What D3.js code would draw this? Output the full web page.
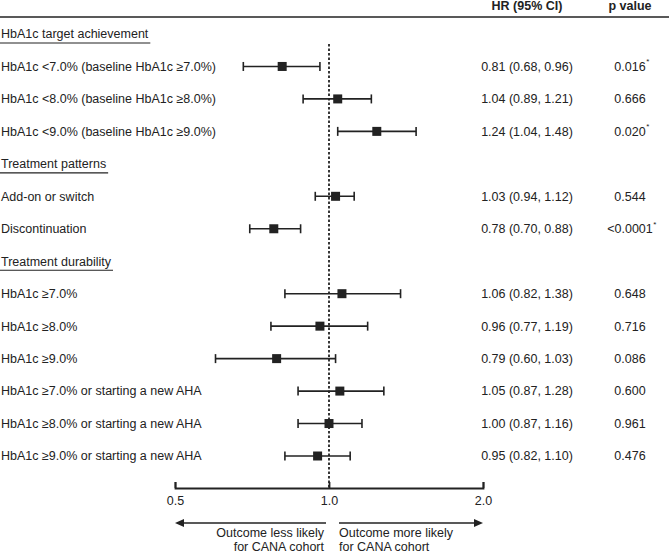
<!DOCTYPE html>
<html><head><meta charset="utf-8">
<script src="https://cdn.jsdelivr.net/npm/d3@7"></script>
<style>
html,body{margin:0;padding:0;background:#fff;}
svg{display:block;font-family:"Liberation Sans",Arial,sans-serif;}
</style></head>
<body><svg id="c" width="669" height="553"></svg>
<script>
const sections = ["HbA1c target achievement", "Treatment patterns", "Treatment durability"];
const rowLabels = [
  "HbA1c <7.0% (baseline HbA1c ≥7.0%)",
  "HbA1c <8.0% (baseline HbA1c ≥8.0%)",
  "HbA1c <9.0% (baseline HbA1c ≥9.0%)",
  "Add-on or switch",
  "Discontinuation",
  "HbA1c ≥7.0%",
  "HbA1c ≥8.0%",
  "HbA1c ≥9.0%",
  "HbA1c ≥7.0% or starting a new AHA",
  "HbA1c ≥8.0% or starting a new AHA",
  "HbA1c ≥9.0% or starting a new AHA"
];
const rowSection = [0, 0, 0, 1, 1, 2, 2, 2, 2, 2, 2];
const hr     = [0.81, 1.04, 1.24, 1.03, 0.78, 1.06, 0.96, 0.79, 1.05, 1.00, 0.95];
const ciLow  = [0.68, 0.89, 1.04, 0.94, 0.70, 0.82, 0.77, 0.60, 0.87, 0.87, 0.82];
const ciHigh = [0.96, 1.21, 1.48, 1.12, 0.88, 1.38, 1.19, 1.03, 1.28, 1.16, 1.10];
const pValues = ["0.016", "0.666", "0.020", "0.544", "<0.0001", "0.648", "0.716", "0.086", "0.600", "0.961", "0.476"];
const significant = [true, false, true, false, true, false, false, false, false, false, false];
const tickValues = [0.5, 1.0, 2.0];
const colHeaders = ["HR (95% CI)", "p value"];
const arrowLabels = [["Outcome less likely", "for CANA cohort"], ["Outcome more likely", "for CANA cohort"]];

const ink = "#222";
const fs = 12.5;
const svg = d3.select("#c");

// build item list: section headers interleaved with rows
const items = [];
rowLabels.forEach((l, i) => {
  if (i === 0 || rowSection[i] !== rowSection[i - 1]) items.push({type: "sec", idx: rowSection[i]});
  items.push({type: "row", idx: i});
});
const y = d3.scalePoint().domain(d3.range(items.length)).range([34, 456]);
const x = d3.scaleLog().domain([0.5, 2]).range([175, 483]);
const rowY = {};
items.forEach((it, k) => { if (it.type === "row") rowY[it.idx] = y(k); });

// top header
svg.append("line").attr("x1", 0).attr("x2", 669).attr("y1", 17).attr("y2", 17)
  .attr("stroke", ink).attr("stroke-width", 1.6);
svg.append("text").attr("x", 527).attr("y", 10).attr("text-anchor", "middle")
  .attr("font-size", fs).attr("font-weight", "bold").attr("fill", ink).text(colHeaders[0]);
svg.append("text").attr("x", 630).attr("y", 10).attr("text-anchor", "middle")
  .attr("font-size", fs).attr("font-weight", "bold").attr("fill", ink).text(colHeaders[1]);

// section headers
items.forEach((it, k) => {
  if (it.type !== "sec") return;
  const t = svg.append("text").attr("x", 1).attr("y", y(k)).attr("dy", "0.35em")
    .attr("font-size", fs).attr("fill", ink).text(sections[it.idx]);
  const w = t.node().getComputedTextLength();
  svg.append("line").attr("x1", 0).attr("x2", w + 3).attr("y1", y(k) + 9).attr("y2", y(k) + 9)
    .attr("stroke", ink).attr("stroke-width", 1.2);
});

// reference line
svg.append("line").attr("x1", x(1)).attr("x2", x(1)).attr("y1", 44).attr("y2", 488)
  .attr("stroke", ink).attr("stroke-width", 1.8).attr("stroke-dasharray", "2.5,2");

// rows
const fmt = d3.format(".2f");
rowLabels.forEach((l, i) => {
  const yy = rowY[i];
  svg.append("text").attr("x", 1).attr("y", yy).attr("dy", "0.35em")
    .attr("font-size", fs).attr("fill", ink).text(l);
  const g = svg.append("g").attr("stroke", ink).attr("stroke-width", 1.6);
  g.append("line").attr("x1", x(ciLow[i])).attr("x2", x(ciHigh[i])).attr("y1", yy).attr("y2", yy);
  g.append("line").attr("x1", x(ciLow[i])).attr("x2", x(ciLow[i])).attr("y1", yy - 4.5).attr("y2", yy + 4.5);
  g.append("line").attr("x1", x(ciHigh[i])).attr("x2", x(ciHigh[i])).attr("y1", yy - 4.5).attr("y2", yy + 4.5);
  svg.append("rect").attr("x", x(hr[i]) - 4.5).attr("y", yy - 4.5).attr("width", 9).attr("height", 9).attr("fill", ink);
  svg.append("text").attr("x", 527).attr("y", yy).attr("dy", "0.35em").attr("text-anchor", "middle")
    .attr("font-size", fs).attr("fill", ink)
    .text(`${fmt(hr[i])} (${fmt(ciLow[i])}, ${fmt(ciHigh[i])})`);
  const pt = svg.append("text").attr("x", 630).attr("y", yy).attr("dy", "0.35em").attr("text-anchor", "middle")
    .attr("font-size", fs).attr("fill", ink).text(pValues[i]);
  if (significant[i]) {
    const w = pt.node().getComputedTextLength();
    svg.append("text").attr("x", 630 + w / 2 + 0.5).attr("y", yy - 2).attr("font-size", 8).attr("fill", ink).text("*");
  }
});

// axis
const axis = d3.axisBottom(x).tickValues(tickValues).tickFormat(d3.format(".1f"))
  .tickSizeInner(-6).tickSizeOuter(-6).tickPadding(8);
const ag = svg.append("g").attr("transform", "translate(0,488)").call(axis);
ag.select(".domain").attr("stroke", ink).attr("stroke-width", 1.8);
ag.selectAll(".tick line").attr("stroke", ink).attr("stroke-width", 1.8);
ag.selectAll(".tick text").attr("font-size", fs).attr("fill", ink).attr("font-family", "Liberation Sans, Arial, sans-serif");

// arrows
const ay = 523;
function arrow(x0, x1) {
  const dir = Math.sign(x1 - x0);
  svg.append("line").attr("x1", x0).attr("x2", x1 - dir * 6).attr("y1", ay).attr("y2", ay)
    .attr("stroke", ink).attr("stroke-width", 1.6);
  svg.append("path").attr("d", `M${x1},${ay} L${x1 - dir * 9},${ay - 4} L${x1 - dir * 9},${ay + 4} Z`).attr("fill", ink);
}
arrow(x(1) - 3, x(0.5));
arrow(x(1) + 10, x(2));
arrowLabels[0].forEach((s, j) => {
  svg.append("text").attr("x", x(1) - 5).attr("y", 533 + j * 13.5).attr("dy", "0.35em").attr("text-anchor", "end")
    .attr("font-size", fs).attr("fill", ink).text(s);
});
arrowLabels[1].forEach((s, j) => {
  svg.append("text").attr("x", x(1) + 10).attr("y", 533 + j * 13.5).attr("dy", "0.35em").attr("text-anchor", "start")
    .attr("font-size", fs).attr("fill", ink).text(s);
});
</script></body></html>
